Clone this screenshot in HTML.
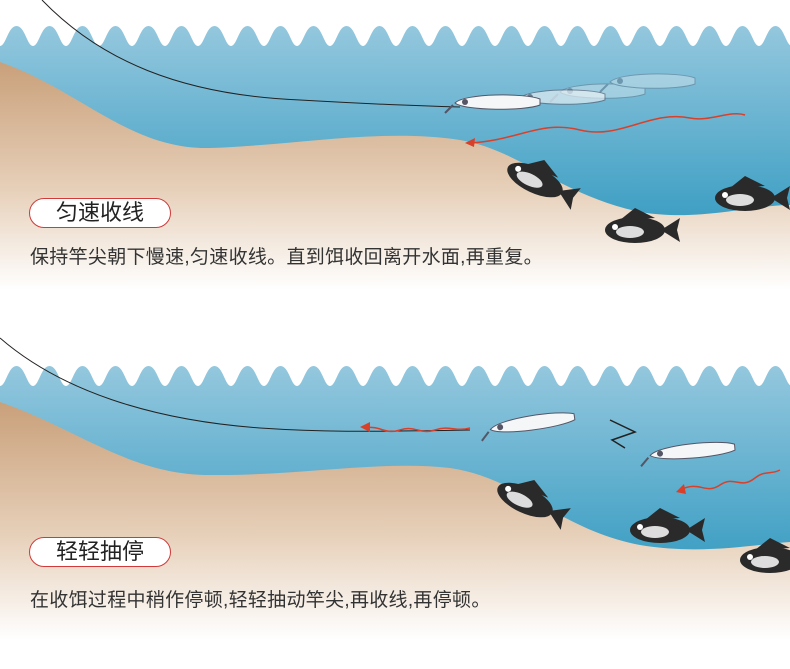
<!DOCTYPE html>
<html><head><meta charset="utf-8"><style>
body{margin:0;width:790px;height:669px;overflow:hidden;background:#fff;font-family:"Liberation Sans","Noto Sans CJK SC",sans-serif}
svg{position:absolute;left:0;top:0}
.pill{position:absolute;border:1.5px solid #d03a3a;border-radius:16px;background:#fff;font-size:22px;color:#222;text-align:center;line-height:27px}
.t{position:absolute;font-size:19px;color:#333;white-space:nowrap;letter-spacing:0.3px}
</style></head><body>
<svg width="790" height="669" viewBox="0 0 790 669">
<defs>
<linearGradient id="w" x1="0" y1="0" x2="0" y2="1"><stop offset="0" stop-color="#95c8de"/><stop offset="1" stop-color="#2f98bf"/></linearGradient>
<linearGradient id="s1" x1="0" y1="0" x2="0" y2="1"><stop offset="0" stop-color="#c9a07a"/><stop offset="0.55" stop-color="#e6cfb8"/><stop offset="1" stop-color="#ffffff"/></linearGradient>
<pattern id="wv" x="0" y="24" width="33" height="30" patternUnits="userSpaceOnUse"><path d="M0,0 H33 V22 C27,22 25,2 16.5,2 C8,2 6,22 0,22 Z" fill="#fff"/></pattern>
<pattern id="wv2" x="0" y="364" width="33" height="30" patternUnits="userSpaceOnUse"><path d="M0,0 H33 V22 C27,22 25,2 16.5,2 C8,2 6,22 0,22 Z" fill="#fff"/></pattern>
<g id="fish"><ellipse cx="0" cy="0" rx="30" ry="13" fill="#2a2a2a"/><path d="M26,0 L45,-12 L42,0 L45,12 Z" fill="#2a2a2a"/><path d="M-15,-10 L0,-22 L20,-12 Z" fill="#2a2a2a"/><ellipse cx="-5" cy="2" rx="14" ry="6" fill="#ddd"/><circle cx="-20" cy="-3" r="3" fill="#fff"/></g>
<g id="lure"><path d="M-40,0 C-30,-10 30,-10 45,-4 L45,2 C30,8 -30,8 -40,0 Z" fill="#f4f6f8" stroke="#556" stroke-width="1"/><circle cx="-30" cy="-1" r="3" fill="#556"/><path d="M-42,2 L-50,10" stroke="#556" stroke-width="2"/></g>
</defs>
<!-- panel 1 -->
<rect x="0" y="24" width="790" height="226" fill="url(#w)"/>
<rect x="0" y="24" width="790" height="22" fill="url(#wv)"/>
<path d="M0,62 C80,90 130,150 210,148 C300,145 380,128 460,140 C520,150 560,195 640,212 C700,222 750,205 790,205 L790,290 L0,290 Z" fill="url(#s1)"/>
<path d="M42,0 C100,60 180,95 300,100 C370,104 420,106 460,107" stroke="#222" fill="none" stroke-width="1"/>
<path d="M470,143 C520,140 540,120 580,130 C620,140 650,110 690,118 C710,122 730,110 745,115" stroke="#d8402a" fill="none" stroke-width="1.5"/>
<path d="M465,143 L475,138 L474,147 Z" fill="#d8402a"/>
<g opacity="0.35"><use href="#lure" x="600" y="92"/><use href="#lure" x="650" y="82"/></g>
<g opacity="0.6"><use href="#lure" x="560" y="98"/></g>
<use href="#lure" x="495" y="103"/>
<use href="#fish" x="535" y="180" transform="rotate(25 535 180)"/>
<use href="#fish" x="635" y="230"/>
<use href="#fish" x="745" y="198"/>
<!-- panel 2 -->
<rect x="0" y="364" width="790" height="226" fill="url(#w)"/>
<rect x="0" y="364" width="790" height="22" fill="url(#wv2)"/>
<path d="M0,402 C80,430 130,475 210,475 C300,476 380,460 450,468 C520,478 560,530 640,545 C700,555 750,545 790,542 L790,640 L0,640 Z" fill="url(#s1)"/>
<path d="M0,338 C60,390 150,420 260,428 C320,432 360,432 470,430" stroke="#222" fill="none" stroke-width="1"/>
<path d="M365,428 C380,425 385,435 400,430 C415,425 420,435 435,430 C450,425 455,432 470,428" stroke="#d8402a" fill="none" stroke-width="1.5"/>
<path d="M360,427 L370,422 L370,432 Z" fill="#d8402a"/>
<path d="M680,490 C700,480 705,495 720,485 C735,475 740,490 755,478 C765,470 770,475 780,470" stroke="#d8402a" fill="none" stroke-width="1.5"/>
<path d="M676,492 L684,484 L686,494 Z" fill="#d8402a"/>
<path d="M610,420 L635,432 L612,440 L625,448" stroke="#222" fill="none" stroke-width="1.5"/>
<use href="#lure" x="530" y="424" transform="rotate(-8 530 424)"/>
<use href="#lure" x="690" y="452" transform="rotate(-5 690 452)"/>
<use href="#fish" x="525" y="500" transform="rotate(25 525 500)"/>
<use href="#fish" x="660" y="530"/>
<use href="#fish" x="770" y="560"/>
</svg>
<div class="pill" style="left:29px;top:198px;width:140px;height:28px">匀速收线</div>
<div class="t" style="left:30px;top:242px">保持竿尖朝下慢速,匀速收线。直到饵收回离开水面,再重复。</div>
<div class="pill" style="left:29px;top:537px;width:140px;height:28px">轻轻抽停</div>
<div class="t" style="left:30px;top:585px">在收饵过程中稍作停顿,轻轻抽动竿尖,再收线,再停顿。</div>
</body></html>
